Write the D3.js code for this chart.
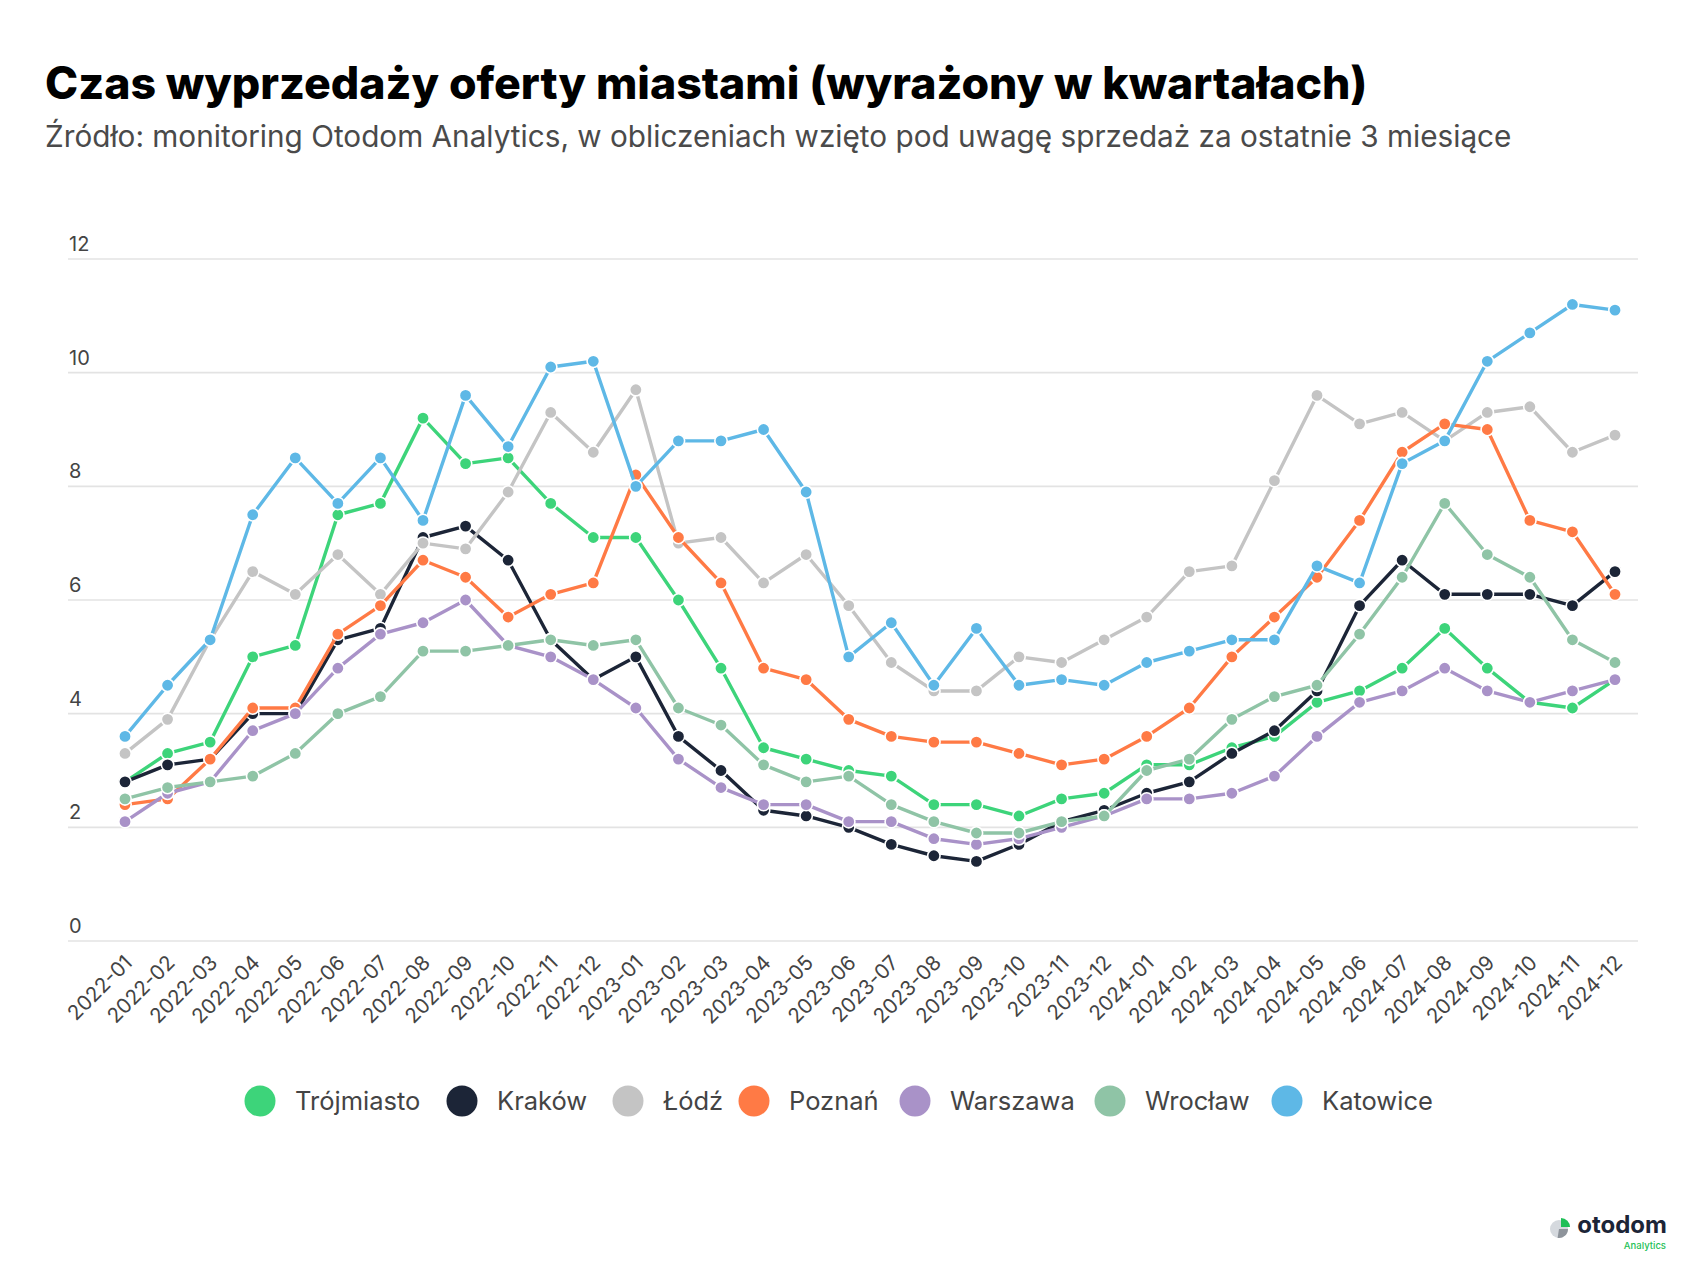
<!DOCTYPE html>
<html>
<head>
<meta charset="utf-8">
<script src="https://cdn.jsdelivr.net/npm/d3@7"></script>
<style>
  html, body { margin: 0; padding: 0; background: #fff; }
  svg { display: block; }
</style>
</head>
<body>
<svg id="chart" width="1696" height="1262"></svg>
<script>
const months = ["2022-01","2022-02","2022-03","2022-04","2022-05","2022-06","2022-07","2022-08","2022-09","2022-10","2022-11","2022-12",
  "2023-01","2023-02","2023-03","2023-04","2023-05","2023-06","2023-07","2023-08","2023-09","2023-10","2023-11","2023-12",
  "2024-01","2024-02","2024-03","2024-04","2024-05","2024-06","2024-07","2024-08","2024-09","2024-10","2024-11","2024-12"];

const trojmiasto = [2.8,3.3,3.5,5.0,5.2,7.5,7.7,9.2,8.4,8.5,7.7,7.1, 7.1,6.0,4.8,3.4,3.2,3.0,2.9,2.4,2.4,2.2,2.5,2.6, 3.1,3.1,3.4,3.6,4.2,4.4,4.8,5.5,4.8,4.2,4.1,4.6];
const krakow     = [2.8,3.1,3.2,4.0,4.0,5.3,5.5,7.1,7.3,6.7,5.3,4.6, 5.0,3.6,3.0,2.3,2.2,2.0,1.7,1.5,1.4,1.7,2.1,2.3, 2.6,2.8,3.3,3.7,4.4,5.9,6.7,6.1,6.1,6.1,5.9,6.5];
const lodz       = [3.3,3.9,5.3,6.5,6.1,6.8,6.1,7.0,6.9,7.9,9.3,8.6, 9.7,7.0,7.1,6.3,6.8,5.9,4.9,4.4,4.4,5.0,4.9,5.3, 5.7,6.5,6.6,8.1,9.6,9.1,9.3,8.8,9.3,9.4,8.6,8.9];
const poznan     = [2.4,2.5,3.2,4.1,4.1,5.4,5.9,6.7,6.4,5.7,6.1,6.3, 8.2,7.1,6.3,4.8,4.6,3.9,3.6,3.5,3.5,3.3,3.1,3.2, 3.6,4.1,5.0,5.7,6.4,7.4,8.6,9.1,9.0,7.4,7.2,6.1];
const warszawa   = [2.1,2.6,2.8,3.7,4.0,4.8,5.4,5.6,6.0,5.2,5.0,4.6, 4.1,3.2,2.7,2.4,2.4,2.1,2.1,1.8,1.7,1.8,2.0,2.2, 2.5,2.5,2.6,2.9,3.6,4.2,4.4,4.8,4.4,4.2,4.4,4.6];
const wroclaw    = [2.5,2.7,2.8,2.9,3.3,4.0,4.3,5.1,5.1,5.2,5.3,5.2, 5.3,4.1,3.8,3.1,2.8,2.9,2.4,2.1,1.9,1.9,2.1,2.2, 3.0,3.2,3.9,4.3,4.5,5.4,6.4,7.7,6.8,6.4,5.3,4.9];
const katowice   = [3.6,4.5,5.3,7.5,8.5,7.7,8.5,7.4,9.6,8.7,10.1,10.2, 8.0,8.8,8.8,9.0,7.9,5.0,5.6,4.5,5.5,4.5,4.6,4.5, 4.9,5.1,5.3,5.3,6.6,6.3,8.4,8.8,10.2,10.7,11.2,11.1];

const cityNames = ["Trójmiasto","Kraków","Łódź","Poznań","Warszawa","Wrocław","Katowice"];
const cityValues = [trojmiasto, krakow, lodz, poznan, warszawa, wroclaw, katowice];
const cityColors = ["#3dd47a","#1c2537","#c4c4c4","#ff7a45","#a992c8","#8fc4a6","#5eb8e6"];
const yTicks = [0,2,4,6,8,10,12];

const titleText = "Czas wyprzedaży oferty miastami (wyrażony w kwartałach)";
const subtitleText = "Źródło: monitoring Otodom Analytics, w obliczeniach wzięto pod uwagę sprzedaż za ostatnie 3 miesiące";

const svg = d3.select("#chart");
const FONT = "Inter, 'Noto Sans', sans-serif";

function fitText(sel, targetW) {
  const w = sel.node().getComputedTextLength();
  const fs = parseFloat(sel.attr("font-size"));
  sel.attr("font-size", fs * targetW / w);
}
const title = svg.append("text").attr("x", 45).attr("y", 99)
  .attr("font-family", FONT).attr("font-weight", 800).attr("font-size", 44)
  .attr("fill", "#000").text(titleText);
fitText(title, 1323);
const sub = svg.append("text").attr("x", 45).attr("y", 147)
  .attr("font-family", FONT).attr("font-weight", 400).attr("font-size", 26)
  .attr("fill", "#4a4a4a").text(subtitleText);
fitText(sub, 1467);

// Scales
const x = d3.scalePoint().domain(months).range([125, 1615]);
const y = d3.scaleLinear().domain([0, 12]).range([941, 259]);

// Grid
const grid = svg.append("g");
grid.selectAll("line").data(yTicks).join("line")
  .attr("x1", 68).attr("x2", 1638)
  .attr("y1", d => y(d)).attr("y2", d => y(d))
  .attr("stroke", "#e3e3e3").attr("stroke-width", 1.6);
grid.selectAll("text").data(yTicks).join("text")
  .attr("x", 69).attr("y", d => y(d) - 8)
  .attr("font-family", FONT).attr("font-size", 20).attr("fill", "#444")
  .text(d => d);

// X axis labels via d3.axisBottom
const xAxis = svg.append("g").attr("transform", "translate(0,952)")
  .call(d3.axisBottom(x).tickSize(0).tickPadding(0));
xAxis.select(".domain").remove();
xAxis.selectAll("text")
  .attr("font-family", FONT).attr("font-size", 20.5).attr("fill", "#444")
  .attr("text-anchor", "end")
  .attr("dy", null).attr("y", 0)
  .attr("transform", "translate(8,12) rotate(-45)");

// Series
const line = d3.line().x((d, i) => x(months[i])).y(d => y(d));
cityNames.forEach((name, k) => {
  const g = svg.append("g");
  g.append("path").datum(cityValues[k])
    .attr("d", line).attr("fill", "none")
    .attr("stroke", cityColors[k]).attr("stroke-width", 3.4)
    .attr("stroke-linejoin", "round");
  g.selectAll("circle").data(cityValues[k]).join("circle")
    .attr("cx", (d, i) => x(months[i])).attr("cy", d => y(d))
    .attr("r", 6.2).attr("fill", cityColors[k])
    .attr("stroke", "#fff").attr("stroke-width", 1.6);
});

// Legend
const legendCircleX = [260, 462, 628, 754, 915, 1110, 1287];
const legend = svg.append("g");
cityNames.forEach((name, k) => {
  legend.append("circle").attr("cx", legendCircleX[k]).attr("cy", 1101).attr("r", 15.5)
    .attr("fill", cityColors[k]);
  legend.append("text").attr("x", legendCircleX[k] + 35).attr("y", 1110)
    .attr("font-family", FONT).attr("font-size", 25.5).attr("fill", "#444")
    .text(name);
});

// Logo
const logo = svg.append("g");
const cx = 1559, cy = 1229, r = 9;
logo.append("circle").attr("cx", cx).attr("cy", cy).attr("r", r).attr("fill", "#d5d9de");
const arc = d3.arc().innerRadius(0).outerRadius(r);
logo.append("path").attr("transform", `translate(${cx},${cy})`)
  .attr("d", arc({startAngle: Math.PI*0.5, endAngle: Math.PI*1.05})).attr("fill", "#8e949b");
logo.append("path").attr("transform", `translate(${cx+2},${cy-2})`)
  .attr("d", arc({startAngle: 0, endAngle: Math.PI*0.5})).attr("fill", "#1fbf57");
logo.append("text").attr("x", 1667).attr("y", 1233).attr("text-anchor", "end")
  .attr("font-family", FONT).attr("font-weight", 700).attr("font-size", 24).attr("fill", "#1c2537")
  .text("otodom");
logo.append("text").attr("x", 1666).attr("y", 1249).attr("text-anchor", "end")
  .attr("font-family", FONT).attr("font-weight", 500).attr("font-size", 9.5).attr("fill", "#1fbf57")
  .text("Analytics");
</script>
</body>
</html>
